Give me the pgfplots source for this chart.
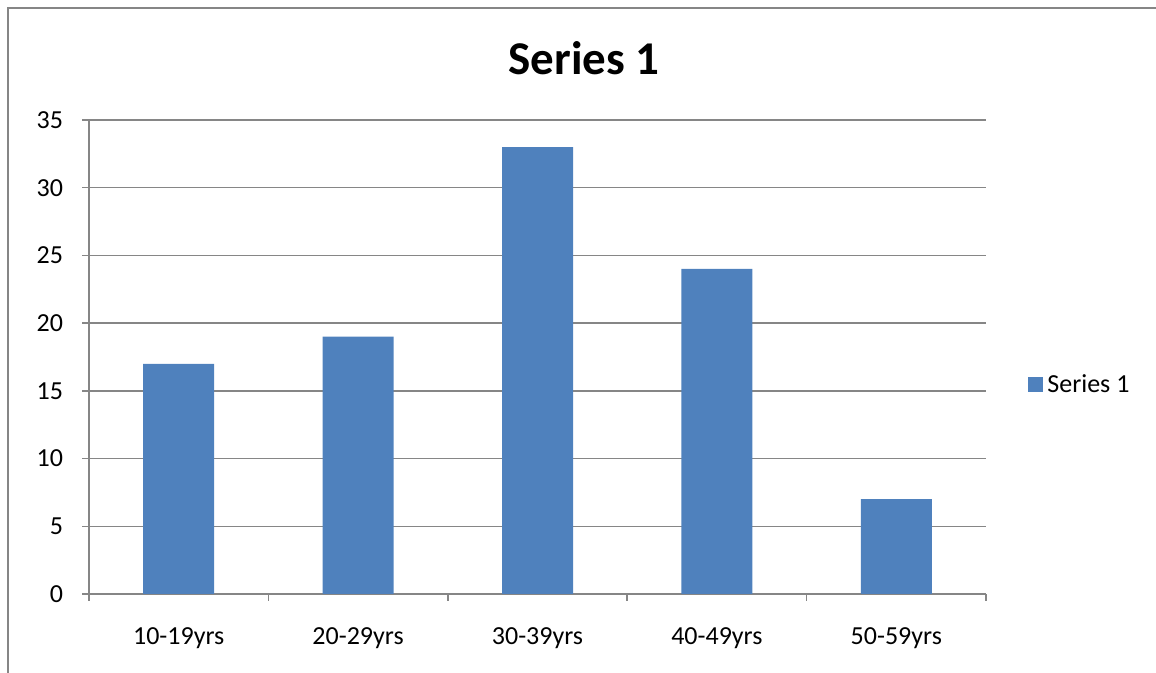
\documentclass[border=0pt]{standalone}
\usepackage{fontspec}
\setmainfont{Carlito}
\usepackage{pgfplots}
\pgfplotsset{compat=1.18}
\definecolor{barblue}{RGB}{79,129,189}
\definecolor{gridgray}{RGB}{134,134,134}
\begin{document}
\begin{tikzpicture}
\useasboundingbox (0pt,0pt) rectangle (578pt,336.5pt);
\draw[gridgray, line width=1pt] (4pt,0pt) -- (4pt,332.5pt) -- (578pt,332.5pt);
\node[font=\fontsize{23.5}{28}\selectfont\bfseries, anchor=base, inner sep=0pt] at (292pt,299pt) {Series 1};
\begin{axis}[
  at={(44.5pt,39.5pt)}, anchor=south west,
  scale only axis, width=448.5pt, height=237pt,
  ymin=0, ymax=35, ytick={0,5,...,35},
  xmin=-0.5, xmax=4.5,
  xtick={-0.5,0.5,1.5,2.5,3.5,4.5},
  x tick label as interval,
  xticklabels={10-19yrs,20-29yrs,30-39yrs,40-49yrs,50-59yrs},
  axis lines*=left,
  axis line style={gridgray, line width=0.75pt},
  ymajorgrids,
  major grid style={gridgray, line width=0.75pt},
  tick align=outside,
  major tick length=3.5pt,
  every tick/.style={gridgray, line width=0.75pt},
  ticklabel style={font=\fontsize{13}{15.6}\selectfont, text=black},
  yticklabel style={xshift=-6pt},
  xticklabel style={yshift=-10pt},
  /pgf/number format/assume math mode=true,
  legend entries={Series 1},
  legend style={at={(1.0468,0.441)}, anchor=west, draw=none, fill=none, inner sep=0pt,
    font=\fontsize{13}{15.6}\selectfont},
  legend image code/.code={\fill[barblue] (0pt,-3.75pt) rectangle (7.5pt,3.75pt);},
  every legend entry/.append style={xshift=1pt},
]
\addplot[ybar, bar width=35.5pt, fill=barblue, draw=none] coordinates {(0,17) (1,19) (2,33) (3,24) (4,7)};
\end{axis}
\end{tikzpicture}
\end{document}
